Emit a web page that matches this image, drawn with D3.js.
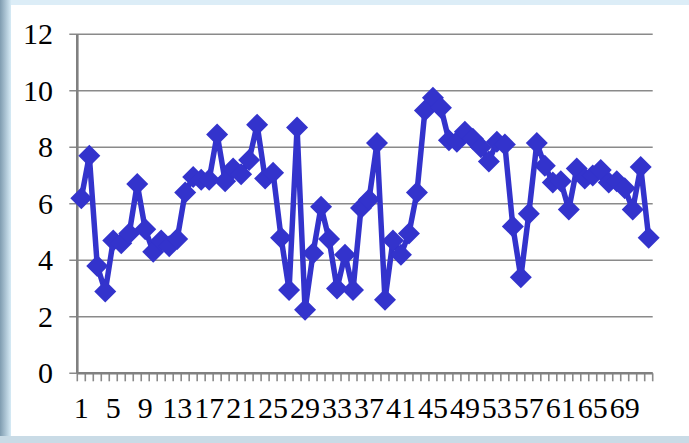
<!DOCTYPE html>
<html>
<head>
<meta charset="utf-8">
<script src="https://cdn.jsdelivr.net/npm/d3@7"></script>
<style>
  html, body { margin: 0; padding: 0; background: #dcedf7; }
  svg { display: block; }
  .lbl { font-family: "Liberation Serif", "Times New Roman", Times, serif; fill: #000; }
</style>
</head>
<body>
<script>
// values, one per category (1..72)
var values = [6.2, 7.7, 3.8, 2.9, 4.7, 4.6, 4.95, 6.7, 5.1, 4.3, 4.7, 4.5,
              4.75, 6.4, 6.95, 6.85, 6.85, 8.45, 6.8, 7.25, 7.05, 7.55, 8.8, 6.9,
              7.1, 4.8, 2.95, 8.7, 2.25, 4.25, 5.9, 4.75, 3.0, 4.2, 2.95, 5.85,
              6.15, 8.15, 2.6, 4.7, 4.2, 4.95, 6.4, 9.3, 9.75, 9.4, 8.25, 8.2,
              8.55, 8.3, 8.0, 7.5, 8.2, 8.1, 5.2, 3.4, 5.65, 8.15, 7.35, 6.75,
              6.8, 5.8, 7.25, 6.9, 7.0, 7.2, 6.75, 6.8, 6.55, 5.8, 7.3, 4.8];
var categories = values.map(function(d, i) { return i + 1; });
var xTickLabels = categories.filter(function(d) { return (d - 1) % 4 === 0; });
var yTicks = [0, 2, 4, 6, 8, 10, 12];

var W = 689, H = 443;
var svg = d3.select("body").append("svg")
  .attr("width", W)
  .attr("height", H);

// photo-ish background behind the white chart panel
var defs = svg.append("defs");
var edge = defs.append("linearGradient").attr("id", "edge");
edge.append("stop").attr("offset", "0%").attr("stop-color", "#7f9cb0");
edge.append("stop").attr("offset", "100%").attr("stop-color", "#d6ebf6");

svg.append("rect").attr("width", W).attr("height", H).attr("fill", "#dcedf7");
svg.append("rect").attr("x", 0).attr("y", 0).attr("width", 11).attr("height", H)
  .attr("fill", "url(#edge)");
svg.append("rect").attr("x", 0).attr("y", 436).attr("width", W).attr("height", 7)
  .attr("fill", "#c9dbe6");
svg.append("rect").attr("x", 11).attr("y", 5).attr("width", W - 11).attr("height", 431)
  .attr("fill", "#fff");

var plotL = 77.3, plotR = 652.7, plotT = 34.3, plotB = 373.3;

var x = d3.scaleBand()
  .domain(categories)
  .range([plotL, plotR])
  .padding(0);

var y = d3.scaleLinear()
  .domain([0, 12])
  .range([plotB, plotT]);

// gridlines (they stick out left of the axis like Excel's tick marks)
svg.append("g").selectAll("line")
  .data(yTicks)
  .enter().append("line")
    .attr("x1", plotL - 8).attr("x2", plotR)
    .attr("y1", function(d) { return y(d); })
    .attr("y2", function(d) { return y(d); })
    .attr("stroke", "#8a8a8a")
    .attr("stroke-width", 1.6);

// y labels
svg.append("g").selectAll("text")
  .data(yTicks)
  .enter().append("text")
    .attr("class", "lbl")
    .attr("x", 53)
    .attr("y", function(d) { return y(d) + 10; })
    .attr("text-anchor", "end")
    .style("font-size", "30px")
    .text(function(d) { return d; });

// category boundary tick marks
var bounds = categories.map(function(d) { return x(d); }).concat([x.range()[1]]);
svg.append("g").selectAll("line")
  .data(bounds)
  .enter().append("line")
    .attr("x1", function(d) { return d; })
    .attr("x2", function(d) { return d; })
    .attr("y1", plotB)
    .attr("y2", plotB + 8)
    .attr("stroke", "#8a8a8a")
    .attr("stroke-width", 1.6);

// axis lines
svg.append("line")
  .attr("x1", plotL).attr("x2", plotL).attr("y1", plotT).attr("y2", plotB)
  .attr("stroke", "#808080").attr("stroke-width", 2.6);
svg.append("line")
  .attr("x1", plotL).attr("x2", plotR).attr("y1", plotB).attr("y2", plotB)
  .attr("stroke", "#808080").attr("stroke-width", 2.6);

// x labels
var xAxis = d3.axisBottom(x).tickValues(xTickLabels).tickSize(0).tickPadding(0);
var gx = svg.append("g")
  .attr("transform", "translate(0," + plotB + ")")
  .call(xAxis);
gx.select(".domain").remove();
gx.attr("font-family", null).attr("font-size", null);
gx.selectAll("text")
  .attr("class", "lbl")
  .attr("y", 45)
  .attr("dy", 0)
  .attr("fill", null)
  .style("font-size", "30px");

// the series
var cx = function(d, i) { return x(categories[i]) + x.bandwidth() / 2; };

var line = d3.line()
  .x(cx)
  .y(function(d) { return y(d); });

svg.append("path")
  .datum(values)
  .attr("d", line)
  .attr("fill", "none")
  .attr("stroke", "#3333cc")
  .attr("stroke-width", 5.5)
  .attr("stroke-linejoin", "round");

var r = 11;
svg.append("g").selectAll("path")
  .data(values)
  .enter().append("path")
    .attr("transform", function(d, i) { return "translate(" + cx(d, i) + "," + y(d) + ")"; })
    .attr("d", "M0," + (-r) + "L" + r + ",0L0," + r + "L" + (-r) + ",0Z")
    .attr("fill", "#3333cc");
</script>
</body>
</html>
